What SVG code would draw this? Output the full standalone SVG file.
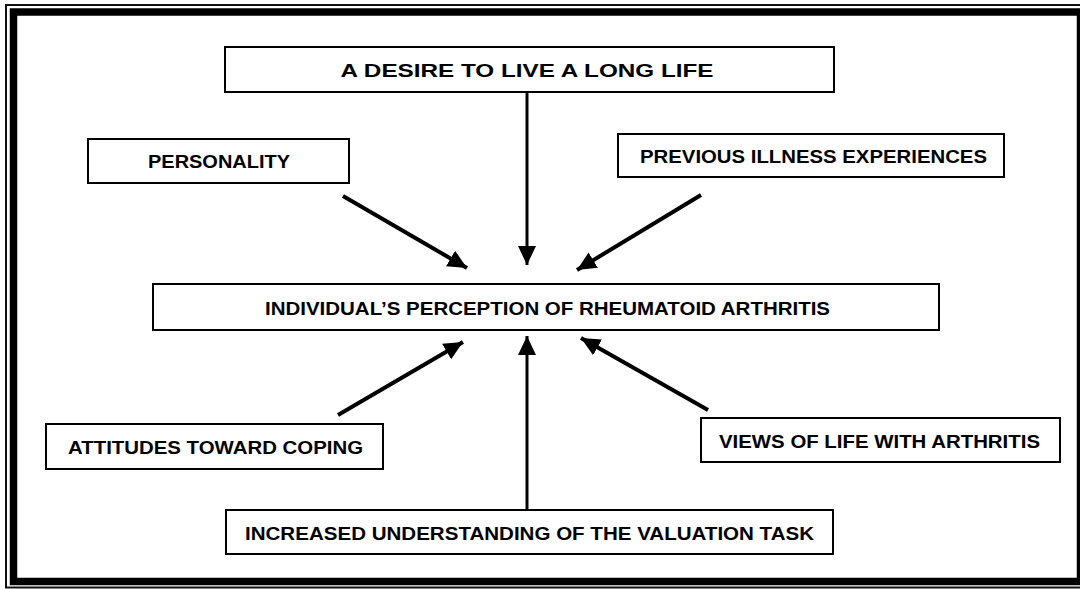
<svg xmlns="http://www.w3.org/2000/svg" width="1080" height="589" viewBox="0 0 1080 589">
<style>
.box{fill:#fff;stroke:#000;stroke-width:2}
.lbl{font-family:"Liberation Sans",Arial,sans-serif;font-weight:bold;font-size:19px;fill:#000;text-anchor:middle}
.con{stroke:#000;stroke-width:4;fill:none;marker-end:url(#ah)}
.vcon{stroke:#000;stroke-width:3;fill:none;marker-end:url(#ah)}
</style>
<defs>
<marker id="ah" markerUnits="userSpaceOnUse" markerWidth="20" markerHeight="20" viewBox="0 0 20 20" refX="19" refY="10" orient="auto">
<path d="M0,1 L19,10 L0,19 Z" fill="#000"/>
</marker>
</defs>
<rect width="1080" height="589" fill="#fff"/>
<g id="frame">
<rect x="6" y="5" width="1090" height="582.5" fill="none" stroke="#111" stroke-width="2"/>
<rect x="13.5" y="12" width="1067" height="569.5" fill="none" stroke="#000" stroke-width="7.5"/>
</g>
<g id="connectors">
<line class="vcon" x1="527" y1="92" x2="527" y2="265"/>
<line class="con" x1="343" y1="196" x2="467" y2="268"/>
<line class="con" x1="701" y1="195" x2="577" y2="270"/>
<line class="con" x1="338" y1="415" x2="463" y2="342"/>
<line class="vcon" x1="527" y1="510" x2="527" y2="336"/>
<line class="con" x1="708" y1="410" x2="581" y2="338"/>
</g>
<g id="node-desire">
<rect class="box" x="225" y="47" width="609" height="45"/>
<text class="lbl" x="527" y="76.5" textLength="373" lengthAdjust="spacingAndGlyphs">A DESIRE TO LIVE A LONG LIFE</text>
</g>
<g id="node-personality">
<rect class="box" x="88" y="139" width="261" height="44"/>
<text class="lbl" x="219" y="167.5" textLength="142" lengthAdjust="spacingAndGlyphs">PERSONALITY</text>
</g>
<g id="node-previous">
<rect class="box" x="618" y="134" width="386" height="43"/>
<text class="lbl" x="813.5" y="163" textLength="347" lengthAdjust="spacingAndGlyphs">PREVIOUS ILLNESS EXPERIENCES</text>
</g>
<g id="node-perception">
<rect class="box" x="153" y="284" width="786" height="46"/>
<text class="lbl" x="547.5" y="314.5" textLength="565" lengthAdjust="spacingAndGlyphs">INDIVIDUAL’S PERCEPTION OF RHEUMATOID ARTHRITIS</text>
</g>
<g id="node-attitudes">
<rect class="box" x="46" y="424" width="337" height="45"/>
<text class="lbl" x="215.5" y="453.5" textLength="295" lengthAdjust="spacingAndGlyphs">ATTITUDES TOWARD COPING</text>
</g>
<g id="node-views">
<rect class="box" x="701" y="418" width="359" height="44"/>
<text class="lbl" x="879.5" y="447.5" textLength="321" lengthAdjust="spacingAndGlyphs">VIEWS OF LIFE WITH ARTHRITIS</text>
</g>
<g id="node-increased">
<rect class="box" x="226" y="510" width="607" height="44"/>
<text class="lbl" x="529.5" y="539.5" textLength="569" lengthAdjust="spacingAndGlyphs">INCREASED UNDERSTANDING OF THE VALUATION TASK</text>
</g>
</svg>
